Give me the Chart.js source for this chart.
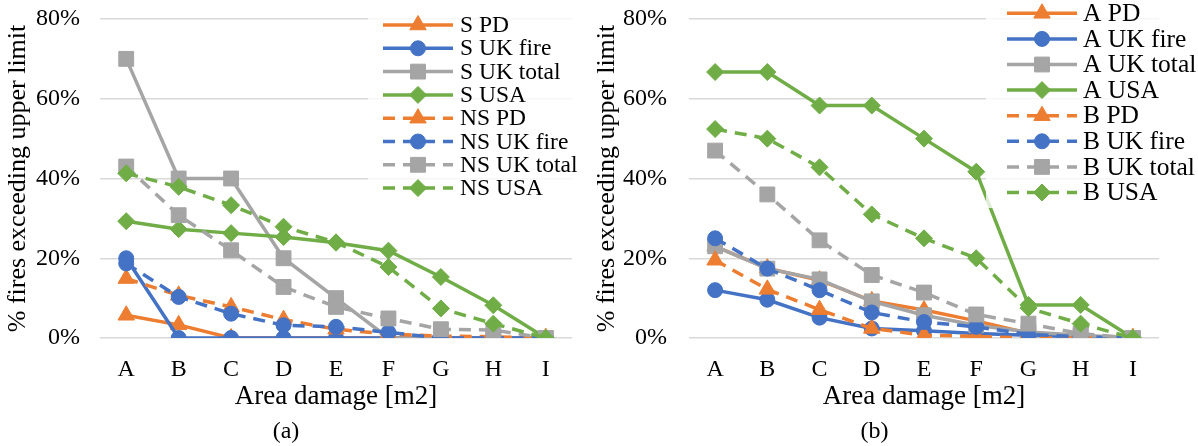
<!DOCTYPE html>
<html>
<head>
<meta charset="utf-8">
<script src="https://cdn.jsdelivr.net/npm/chart.js@4"></script>
<style>
  html, body { margin: 0; padding: 0; background: #fff; }
  #wrap { display: flex; width: 1198px; height: 446px; }
  .box { position: relative; height: 446px; }
</style>
</head>
<body>
<div id="wrap">
  <div class="box" style="width:590px"><canvas id="chartA"></canvas></div>
  <div class="box" style="width:608px"><canvas id="chartB"></canvas></div>
</div>
<script>
const categories = ['A', 'B', 'C', 'D', 'E', 'F', 'G', 'H', 'I'];
const yTicks = [0, 20, 40, 60, 80];

// panel (a)
const sPD       = [5.7, 3.3, 0, 0, 0, 0, 0, 0, 0];
const sUkFire   = [20, 0, 0, 0, 0, 0, 0, 0, 0];
const sUkTotal  = [70, 40, 40, 20, 10, 0, 0, 0, 0];
const sUsa      = [29.3, 27.3, 26.3, 25.3, 23.9, 21.9, 15.3, 8.2, 0];
const nsPD      = [14.9, 10.7, 7.8, 4.6, 2.2, 1.0, 0.5, 0.3, 0];
const nsUkFire  = [18.7, 10.3, 6.1, 3.2, 2.8, 1.4, 0, 0, 0];
const nsUkTotal = [43, 30.8, 22, 12.8, 7.8, 4.9, 2.2, 2, 0];
const nsUsa     = [41.3, 37.9, 33.3, 27.9, 24, 17.8, 7.4, 3.6, 0];

// panel (b)
const aPD       = [23, 17.5, 14.5, 9.3, 7, 4.3, 1.2, 0.5, 0];
const aUkFire   = [12, 9.6, 5.1, 2.4, 1.8, 1.1, 0.7, 0.3, 0];
const aUkTotal  = [23, 17.4, 14.7, 9.2, 5.7, 3.2, 1.5, 0.7, 0];
const aUsa      = [66.7, 66.7, 58.3, 58.3, 50, 41.7, 8.3, 8.3, 0];
const bPD       = [19.5, 12.2, 7.1, 2.4, 0.7, 0.4, 0, 0, 0];
const bUkFire   = [25, 17.4, 12, 6.4, 4, 2.8, 0.9, 0.3, 0];
const bUkTotal  = [47, 36, 24.5, 15.8, 11.4, 5.9, 3.6, 1.1, 0];
const bUsa      = [52.4, 50, 42.8, 31, 25, 20, 7.5, 3.6, 0];

const FONT = '"Liberation Serif", "Times New Roman", serif';
Chart.defaults.font.family = FONT;
Chart.defaults.color = '#000';

const orange = '#ED7D31', blue = '#4472C4', gray = '#A5A5A5', green = '#70AD47';
const radius = { triangle: 9.5, circle: 7.5, rect: 10.5, rectRot: 8.5 };

function line(label, data, color, style, dashed) {
  return {
    label: label,
    data: data,
    borderColor: color,
    backgroundColor: color,
    borderWidth: 3.5,
    borderDash: dashed ? [12, 8] : [],
    pointStyle: style,
    pointRadius: radius[style],
    pointHoverRadius: radius[style],
    pointBorderWidth: 1,
    tension: 0
  };
}

// legend drawn inside the plot, with a semi transparent white box
const boxLegend = {
  id: 'boxLegend',
  afterDraw(chart, args, o) {
    const ctx = chart.ctx;
    ctx.save();
    ctx.fillStyle = 'rgba(255,255,255,0.78)';
    ctx.fillRect(o.x, o.y, o.w, o.h);
    chart.data.datasets.forEach((ds, i) => {
      const y = o.top + i * o.step;
      ctx.strokeStyle = ds.borderColor;
      ctx.lineWidth = ds.borderWidth;
      ctx.setLineDash(ds.borderDash);
      ctx.beginPath();
      ctx.moveTo(o.lx1, y);
      ctx.lineTo(o.lx2, y);
      ctx.stroke();
      ctx.setLineDash([]);
      ctx.fillStyle = ds.backgroundColor;
      ctx.lineWidth = 1;
      Chart.helpers.drawPoint(ctx, {
        pointStyle: ds.pointStyle, radius: ds.pointRadius, borderWidth: 1, rotation: 0
      }, (o.lx1 + o.lx2) / 2, y);
      ctx.fillStyle = '#000';
      ctx.font = o.size + 'px ' + FONT;
      ctx.textBaseline = 'middle';
      ctx.textAlign = 'left';
      ctx.fillText(ds.label, o.tx, y + 1);
    });
    ctx.restore();
  }
};

function makeChart(id, datasets, cfg) {
  datasets.forEach((d, i) => { d.order = datasets.length - i; });
  return new Chart(document.getElementById(id), {
    type: 'line',
    data: { labels: categories, datasets: datasets },
    options: {
      responsive: true,
      maintainAspectRatio: false,
      animation: false,
      layout: { padding: { top: 19, right: cfg.padRight, bottom: 2, left: 0 } },
      plugins: {
        legend: { display: false },
        tooltip: { enabled: false },
        title: {
          display: true, text: cfg.caption, position: 'bottom',
          font: { size: 24, lineHeight: 1, weight: 'normal' }, padding: 0, color: '#000'
        },
        boxLegend: cfg.legend
      },
      scales: {
        x: {
          offset: true,
          grid: { display: false },
          border: { display: false },
          ticks: { font: { size: 24 }, padding: 9, color: '#000' },
          title: {
            display: true, text: 'Area damage [m2]',
            font: { size: 27, lineHeight: 1 }, padding: { top: 0, bottom: 10 }, color: '#000'
          },
          afterFit(s) { s.height = 82; }
        },
        y: {
          min: 0, max: 80,
          afterBuildTicks(s) { s.ticks = yTicks.map(v => ({ value: v })); },
          grid: { color: '#D9D9D9', lineWidth: 1.5, drawTicks: false },
          border: { display: false },
          ticks: { font: { size: 24 }, padding: cfg.tickPad, color: '#000', callback: v => v + '%' },
          title: {
            display: true, text: '% fires exceeding upper limit',
            font: { size: 26, lineHeight: 1 }, padding: { top: cfg.titlePad, bottom: 0 }, color: '#000'
          },
          afterFit(s) {
            s.width = cfg.yWidth;
            s.paddingTop = 0;
            s.paddingBottom = 0;
          }
        }
      }
    },
    plugins: [boxLegend]
  });
}

makeChart('chartA', [
  line('S PD', sPD, orange, 'triangle', false),
  line('S UK fire', sUkFire, blue, 'circle', false),
  line('S UK total', sUkTotal, gray, 'rect', false),
  line('S USA', sUsa, green, 'rectRot', false),
  line('NS PD', nsPD, orange, 'triangle', true),
  line('NS UK fire', nsUkFire, blue, 'circle', true),
  line('NS UK total', nsUkTotal, gray, 'rect', true),
  line('NS USA', nsUsa, green, 'rectRot', true)
], {
  caption: '(a)', padRight: 18, yWidth: 100, tickPad: 20, titlePad: 5,
  legend: { x: 368, y: 4, w: 222, h: 200, top: 25, step: 23.3, lx1: 383, lx2: 453, tx: 460, size: 23.5 }
});

makeChart('chartB', [
  line('A PD', aPD, orange, 'triangle', false),
  line('A UK fire', aUkFire, blue, 'circle', false),
  line('A UK total', aUkTotal, gray, 'rect', false),
  line('A USA', aUsa, green, 'rectRot', false),
  line('B PD', bPD, orange, 'triangle', true),
  line('B UK fire', bUkFire, blue, 'circle', true),
  line('B UK total', bUkTotal, gray, 'rect', true),
  line('B USA', bUsa, green, 'rectRot', true)
], {
  caption: '(b)', padRight: 39, yWidth: 99, tickPad: 22, titlePad: 4,
  legend: { x: 396, y: 0, w: 212, h: 208, top: 13.3, step: 25.6, lx1: 417, lx2: 487, tx: 493, size: 25.5 }
});
</script>
</body>
</html>
